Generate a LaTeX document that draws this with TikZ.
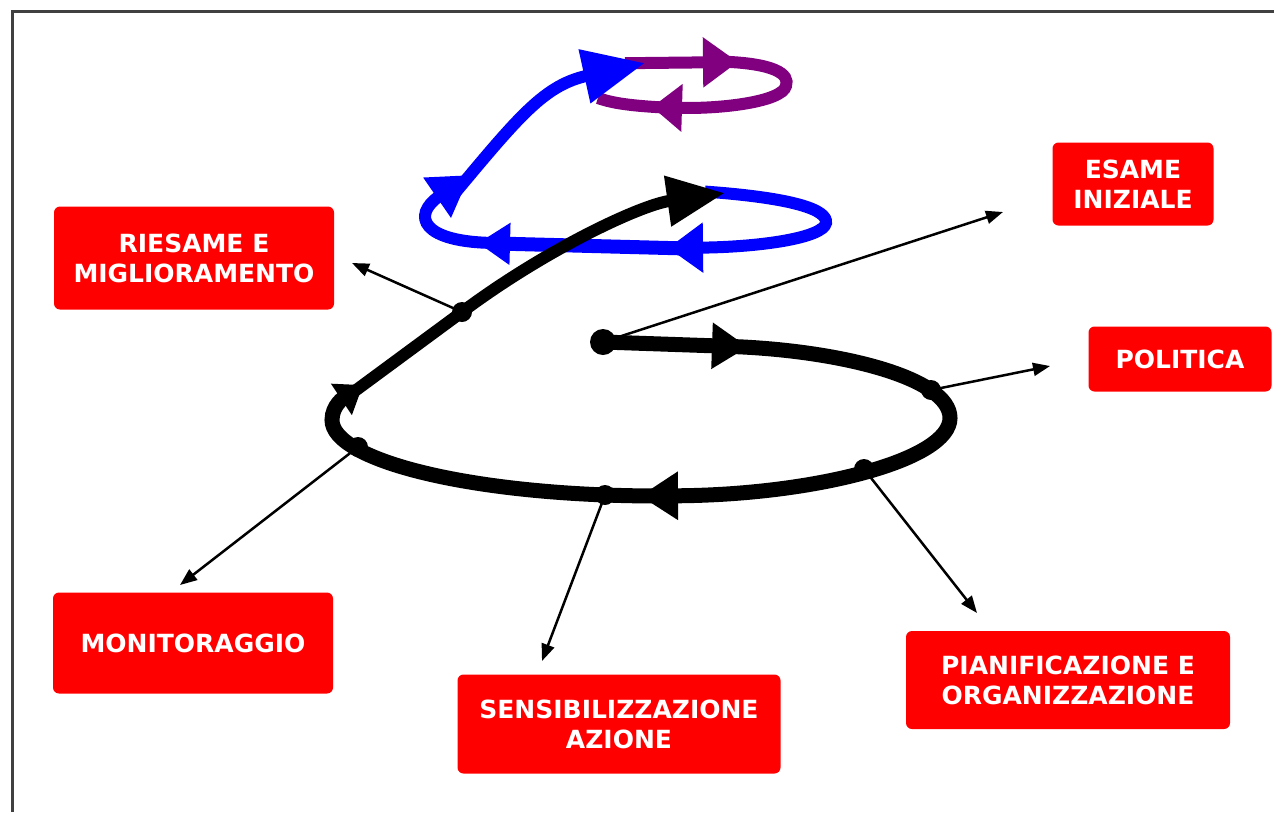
\documentclass[tikz,border=0pt]{standalone}
\usepackage{fontspec}
\setmainfont{DejaVu Sans}
\usetikzlibrary{arrows.meta}
\definecolor{loopviolet}{RGB}{128,0,128}

\begin{document}
\begin{tikzpicture}[
    x=1pt, y=-1pt,
    redbox/.style={rectangle, rounded corners=6pt, fill=red, text=white, align=center, font=\bfseries\fontsize{25}{30}\selectfont},
    thinarrow/.style={line width=2.5pt, -{Triangle[length=17pt,width=13pt]}},
    head/.style 2 args={-{Triangle[length=#1,width=#2]}},
    through/.style={shorten <=-#1},
    ring/.style={line width=15pt},
    lift/.style={line width=12pt},
]

    % frame
    \useasboundingbox (0,0) rectangle (1274,812);
    \draw[line width=3pt, black!75] (12,812) -- (12,11) -- (1274,11);

    % points on the spiral
    \coordinate (start) at (603,342);
    \coordinate (s1) at (748,347);
    \coordinate (pol) at (931,390);
    \coordinate (pia) at (864,469);
    \coordinate (s2) at (640,496);
    \coordinate (sen) at (605,495);
    \coordinate (mon) at (358,447);
    \coordinate (s3) at (363,385);
    \coordinate (rie) at (462,312);
    \coordinate (s4) at (725,193);

    % blue and purple loops
    \coordinate (b1) at (668,248);
    \coordinate (b2) at (478,243);
    \coordinate (b3) at (470,175);
    \coordinate (b4) at (645,63);
    \coordinate (p1) at (738,62);
    \coordinate (p2) at (652,107);
    \coordinate (p3) at (598,98);

    % free ends of the thin arrows
    \coordinate (to_esa) at (1003,212);
    \coordinate (to_pol) at (1050,366);
    \coordinate (to_pia) at (977,613);
    \coordinate (to_sen) at (542,661);
    \coordinate (to_mon) at (180,585);
    \coordinate (to_rie) at (352,263);

    % purple
    \draw[loopviolet, lift, through=20pt, head={35pt}{48pt}] (b4) -- (p1);
    \draw[loopviolet, lift, through=20pt, head={30pt}{46pt}] (p1) .. controls (775,63) and (790,74) .. (786,86) .. controls (782,102) and (720,109) .. (p2);
    \draw[loopviolet, lift, through=20pt] (p2) .. controls (630,106) and (612,103) .. (p3);

    % blue
    \draw[blue, lift, through=20pt, head={35pt}{48pt}] (s4) .. controls (795,198) and (828,210) .. (826,223) .. controls (823,238) and (760,247) .. (b1);
    \draw[blue, line width=14pt, through=20pt, head={32pt}{40pt}] (b1) -- (b2);
    \draw[blue, lift, through=20pt, head={40pt}{46pt}] (b2) .. controls (420,243) and (412,215) .. (b3);
    \draw[blue, lift, through=25pt, head={62pt}{52pt}] (b3) .. controls (520,115) and (545,85) .. (b4);

    % black spiral
    \draw[ring, head={36pt}{44pt}] (start) -- (s1);
    \draw[ring, through=20pt, head={38pt}{46pt}] (s1) .. controls (840,350) and (950,378) .. (950,418) .. controls (950,460) and (815,495) .. (s2);
    \draw[ring, through=20pt, head={26pt}{36pt}] (s2) .. controls (470,496) and (332,460) .. (332,420) .. controls (332,405) and (345,397) .. (s3);
    \draw[lift, through=15pt, head={58pt}{48pt}] (s3) -- (rie) .. controls (545,250) and (640,205) .. (s4);

    % thin arrows
    \draw[thinarrow] (start) -- (to_esa);
    \draw[thinarrow] (pol) -- (to_pol);
    \draw[thinarrow] (pia) -- (to_pia);
    \draw[thinarrow] (sen) -- (to_sen);
    \draw[thinarrow] (mon) -- (to_mon);
    \draw[thinarrow] (rie) -- (to_rie);

    % dots
    \fill (start) circle (13pt);
    \foreach \p in {pol, pia, sen, mon, rie}
        \fill (\p) circle (10pt);

    % boxes
    \node (riesame) [redbox, minimum width=280pt, minimum height=103pt] at (194,258) {RIESAME E\\MIGLIORAMENTO};
    \node (esame) [redbox, minimum width=161pt, minimum height=83pt] at (1133,184) {ESAME\\INIZIALE};
    \node (politica) [redbox, minimum width=183pt, minimum height=65pt] at (1180,359) {POLITICA};
    \node (monitor) [redbox, minimum width=280pt, minimum height=101pt] at (193,643) {MONITORAGGIO};
    \node (sensib) [redbox, minimum width=323pt, minimum height=99pt] at (619,724) {SENSIBILIZZAZIONE\\AZIONE};
    \node (pianif) [redbox, minimum width=324pt, minimum height=98pt] at (1068,680) {PIANIFICAZIONE E\\ORGANIZZAZIONE};

\end{tikzpicture}
\end{document}
